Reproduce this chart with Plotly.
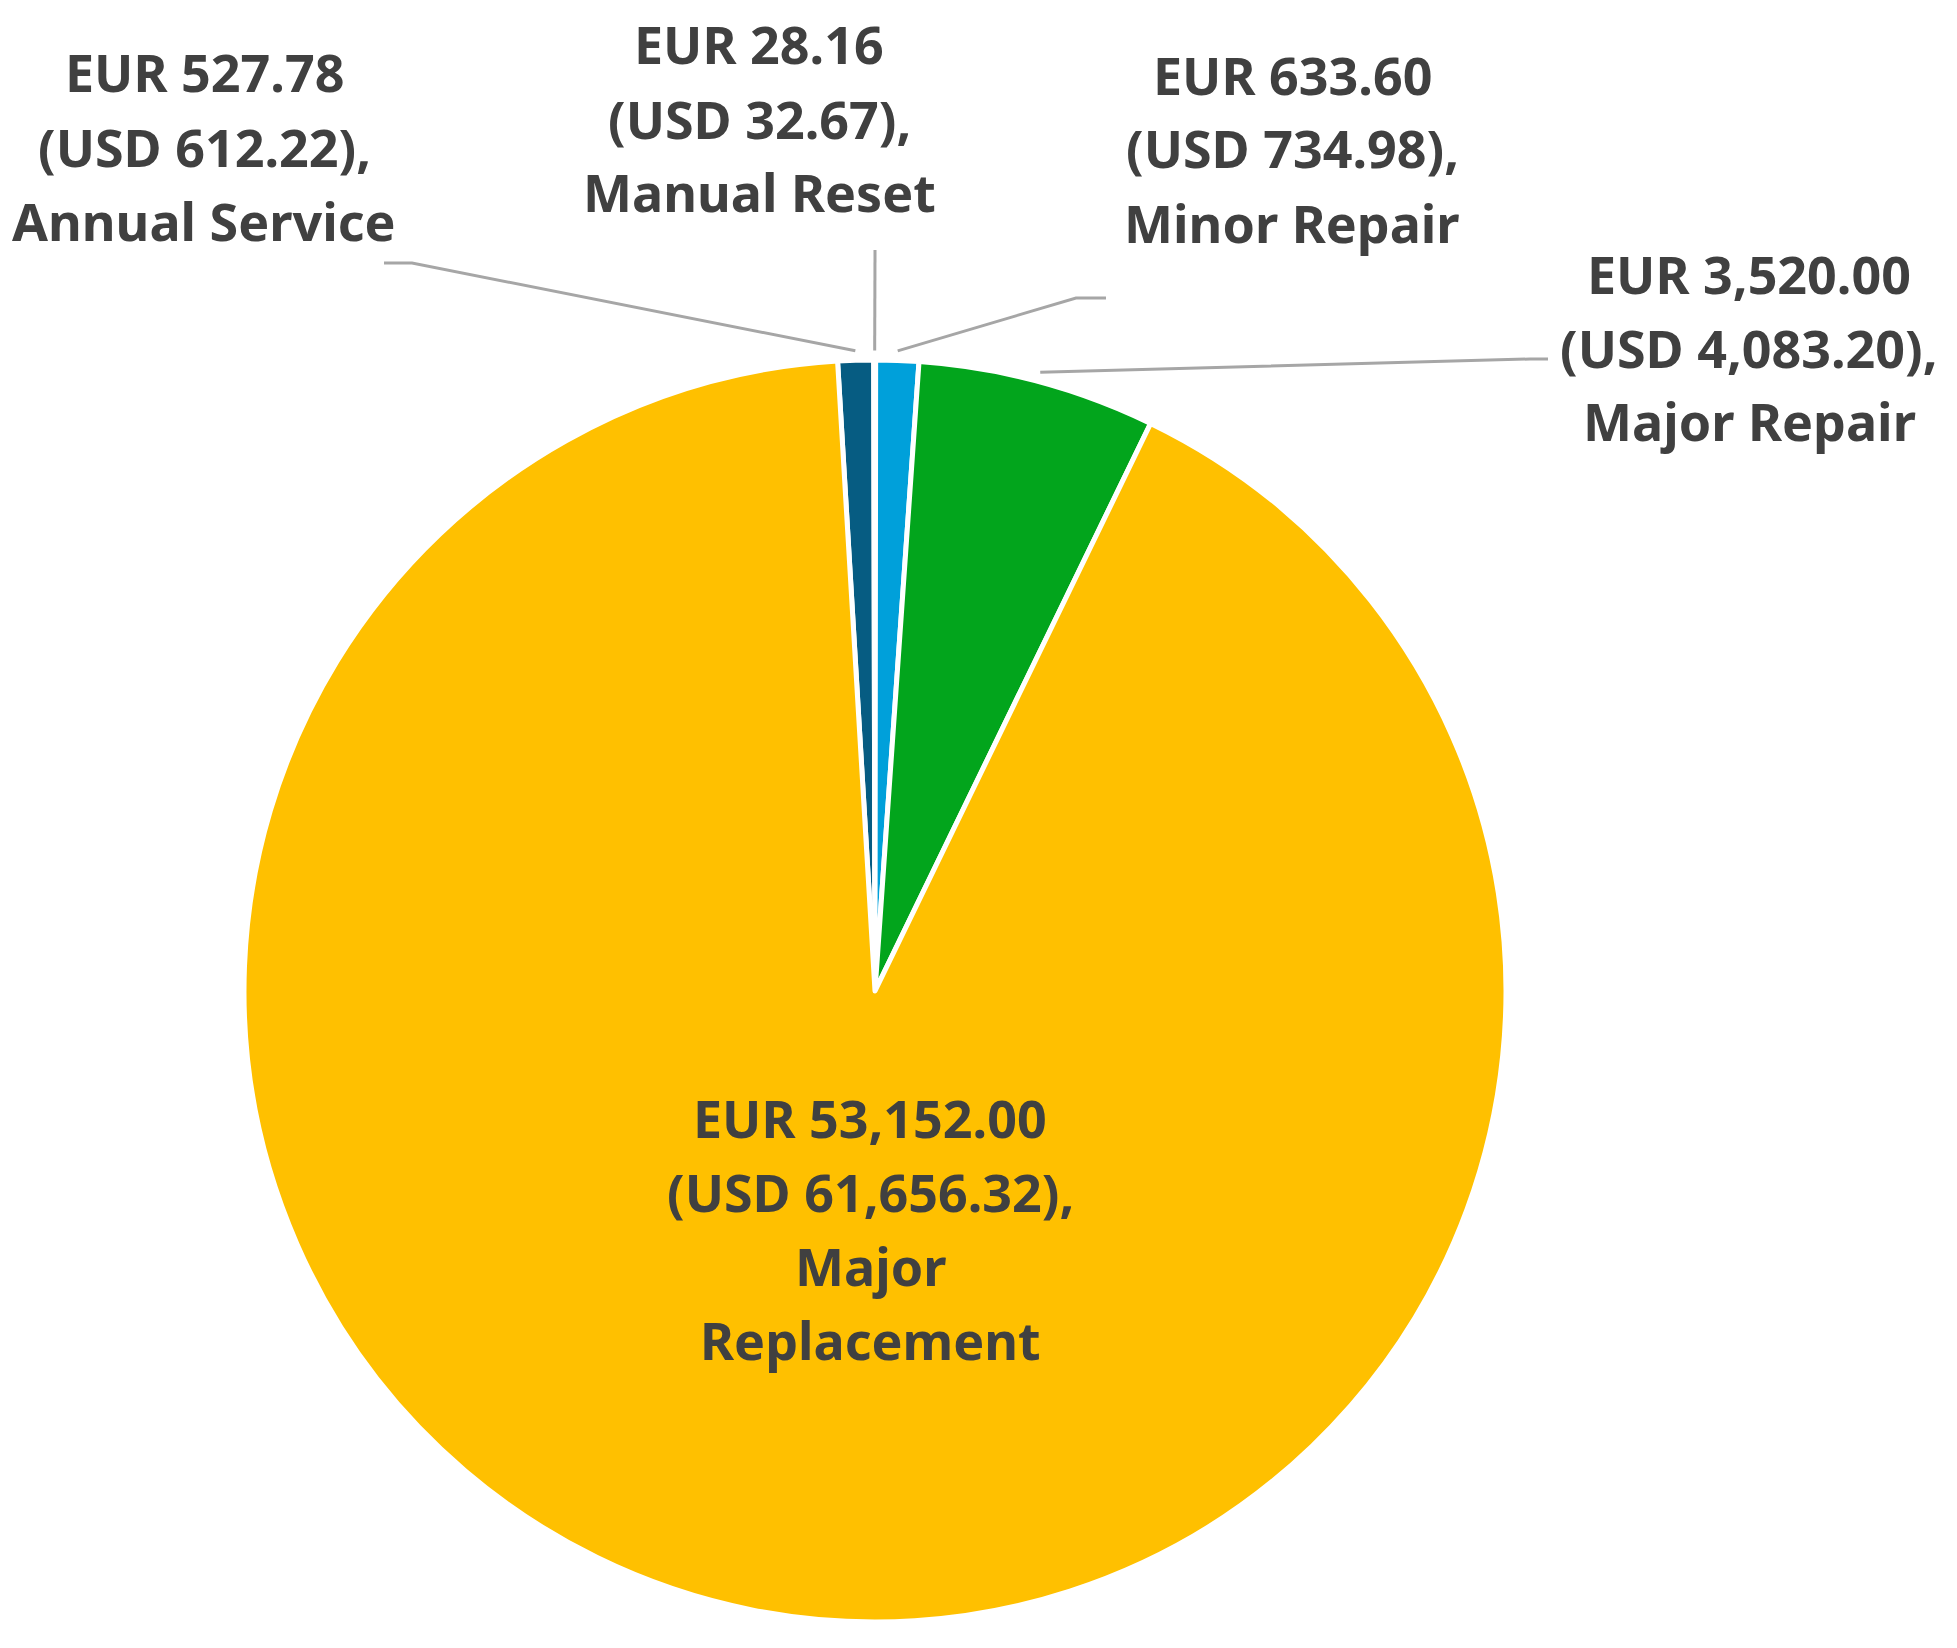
import numpy as np
import plotly.graph_objects as go

# data
categories = ["Annual Service", "Manual Reset", "Minor Repair", "Major Repair", "Major Replacement"]
eur_values = [527.78, 28.16, 633.60, 3520.00, 53152.00]
usd_values = [612.22, 32.67, 734.98, 4083.20, 61656.32]
label_names = [["Annual Service"], ["Manual Reset"], ["Minor Repair"], ["Major Repair"], ["Major", "Replacement"]]

colors = ["#065C82", "#4A6E8A", "#00A0DA", "#02A51C", "#FFC000"]

W, H = 1957, 1648
OFF = 8  # page body margin
ROT = -3.4
# pie placement (screen pixels)
cx, cy, R = 875, 991, 631

def px(x, y):
    return (x - OFF) / W, 1 - (y - OFF) / H

x0, y0 = px(cx - R, cy + R)
x1, y1 = px(cx + R, cy - R)

fig = go.Figure(go.Pie(
    labels=categories,
    values=eur_values,
    sort=False,
    direction="clockwise",
    rotation=ROT,
    marker=dict(colors=colors, line=dict(color="white", width=5)),
    textinfo="none",
    hoverinfo="label+value",
    showlegend=False,
    domain=dict(x=[x0, x1], y=[y0, y1]),
))

# label text positions (center x, first-line y) and leader line elbows
label_pos = [(204, 72), (759, 44), (1292, 74), (1749, 273), (870, 1117)]
elbows = [[(384, 263), (412, 263)], [(875, 250)], [(1106, 298), (1076, 298)],
          [(1548, 359), (1530, 359)], None]

total = sum(eur_values)
start = ROT
annotations = []
shapes = []
line_gap = 74
for i, name in enumerate(categories):
    span = eur_values[i] / total * 360
    mid = np.radians(start + span / 2)
    start += span
    lines = [f"EUR {eur_values[i]:,.2f}", f"(USD {usd_values[i]:,.2f}),"] + label_names[i]
    lx, ly = label_pos[i]
    for k, t in enumerate(lines):
        x, y = px(lx, ly + k * line_gap)
        annotations.append(dict(
            x=x, y=y, xref="paper", yref="paper", text=t, showarrow=False,
            xanchor="center", yanchor="middle",
            font=dict(family="Noto Sans", size=52, color="#404040", weight="bold"),
        ))
    if elbows[i] is not None:
        ax = cx + R * 1.015 * np.sin(mid)
        ay = cy - R * 1.015 * np.cos(mid)
        pts = elbows[i] + [(ax, ay)]
        path = "M " + " L ".join(f"{px(x, y)[0]:.5f},{px(x, y)[1]:.5f}" for x, y in pts)
        shapes.append(dict(type="path", xref="paper", yref="paper", path=path,
                           line=dict(color="#A6A6A6", width=3)))

fig.update_layout(
    width=W, height=H,
    margin=dict(l=0, r=0, t=0, b=0),
    paper_bgcolor="white",
    plot_bgcolor="white",
    annotations=annotations,
    shapes=shapes,
)

fig.write_html("out.html")
